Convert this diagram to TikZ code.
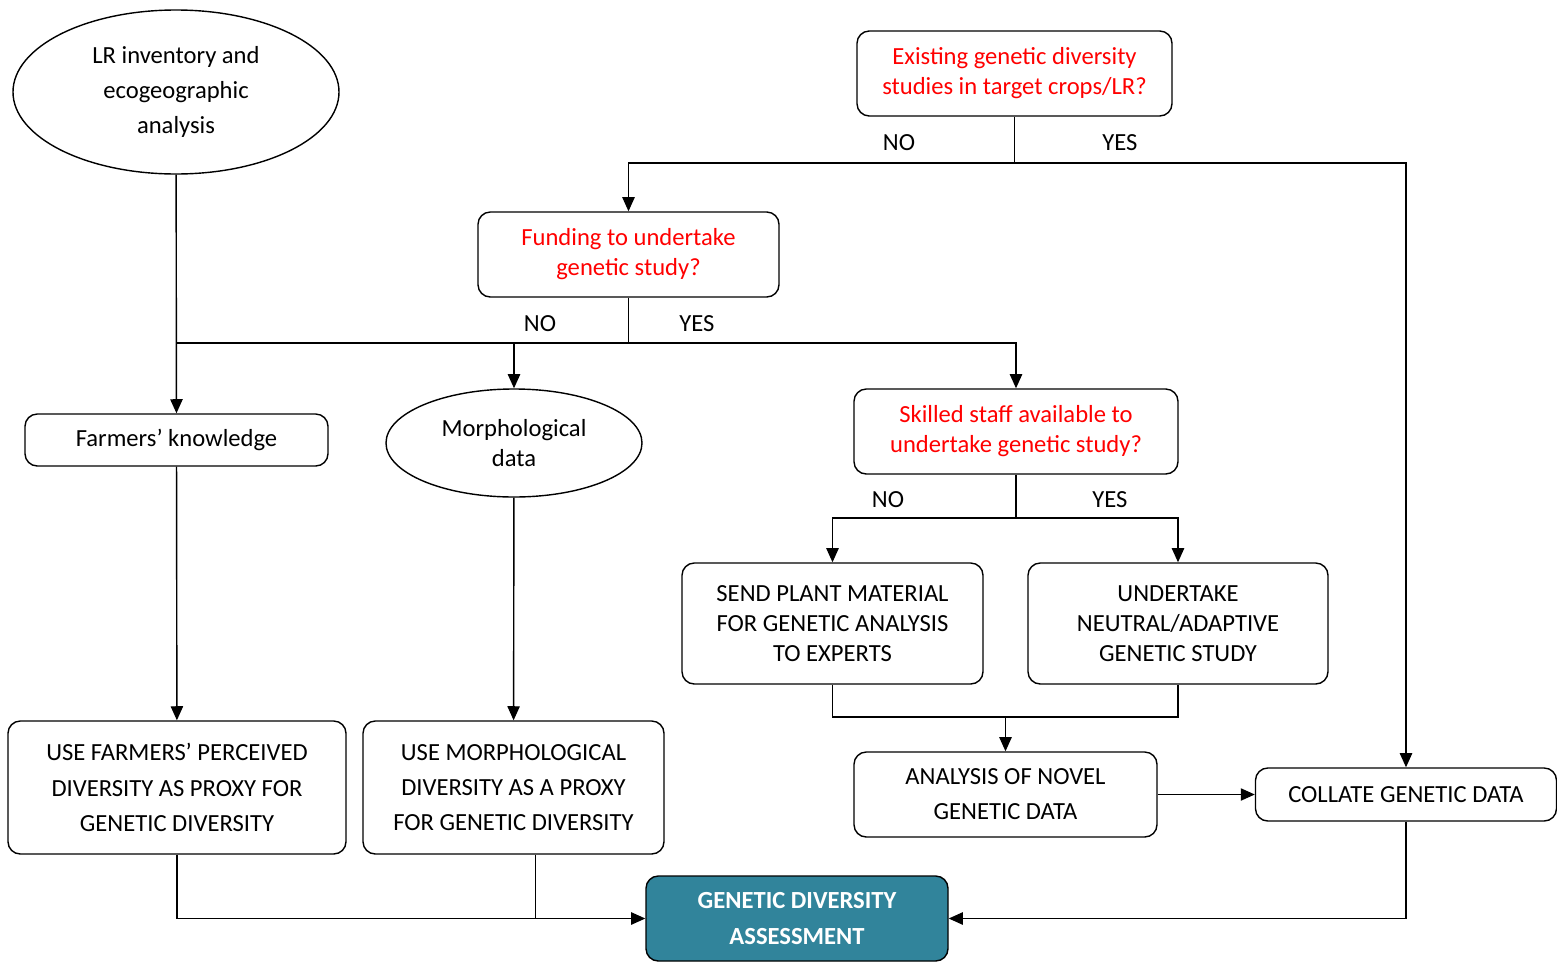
\documentclass[tikz,border=0pt]{standalone}
\usepackage{fontspec}
\setmainfont{Carlito}
\usetikzlibrary{arrows.meta,positioning,shapes.geometric,calc}
\definecolor{cred}{RGB}{255,0,0}
\definecolor{cgda}{RGB}{49,132,155}

\begin{document}
\begin{tikzpicture}[
            >={Triangle[length=8pt,width=7pt]},
            line width=0.8pt,
            txt/.style={font=\fontsize{14}{17}\selectfont, align=center},
            box/.style={txt, draw, rounded corners=7pt, inner sep=0pt},
            oval/.style={txt, draw, ellipse, inner sep=0pt},
            qbox/.style={box, text=cred},
            wide/.style={font=\fontsize{14}{20}\selectfont},
            lbl/.style={font=\fontsize{14}{17}\selectfont}
          ]
          \useasboundingbox (0,0) rectangle (31.14,-19.28);
          % left column
          \node[oval, wide, minimum width=6.52cm, minimum height=3.28cm] (lr) at (3.52,-1.84) {LR inventory and\\ecogeographic\\analysis};
          \node[box, minimum width=6.06cm, minimum height=1.04cm] (farm) at (3.53,-8.8) {Farmers’ knowledge};
          \node[box, wide, minimum width=6.76cm, minimum height=2.66cm] (usef) at (3.54,-15.75) {USE FARMERS’ PERCEIVED\\DIVERSITY AS PROXY FOR\\GENETIC DIVERSITY};
          \node[oval, minimum width=5.12cm, minimum height=2.16cm] (morph) at (10.28,-8.86) {Morphological\\data};
          \node[box, wide, minimum width=6.02cm, minimum height=2.66cm] (usem) at (10.27,-15.75) {USE MORPHOLOGICAL\\DIVERSITY AS A PROXY\\FOR GENETIC DIVERSITY};
          % questions
          \node[qbox, minimum width=6.3cm, minimum height=1.7cm] (exist) at (20.29,-1.47) {Existing genetic diversity\\studies in target crops/LR?};
          \node[qbox, minimum width=6.02cm, minimum height=1.7cm] (fund) at (12.57,-5.09) {Funding to undertake\\genetic study?};
          \node[qbox, minimum width=6.48cm, minimum height=1.7cm] (skill) at (20.32,-8.63) {Skilled staff available to\\undertake genetic study?};
          % genetic route
          \node[box, minimum width=6.02cm, minimum height=2.42cm] (send) at (16.65,-12.47) {SEND PLANT MATERIAL\\FOR GENETIC ANALYSIS\\TO EXPERTS};
          \node[box, minimum width=6.0cm, minimum height=2.42cm] (under) at (23.56,-12.47) {UNDERTAKE\\NEUTRAL/ADAPTIVE\\GENETIC STUDY};
          \node[box, wide, minimum width=6.06cm, minimum height=1.7cm] (anal) at (20.11,-15.89) {ANALYSIS OF NOVEL\\GENETIC DATA};
          \node[box, minimum width=6.02cm, minimum height=1.06cm] (coll) at (28.12,-15.89) {COLLATE GENETIC DATA};
          \node[box, fill=cgda, text=white, font=\fontsize{14}{20}\selectfont\bfseries, minimum width=6.04cm, minimum height=1.7cm] (gda) at (15.94,-18.37) {GENETIC DIVERSITY\\ASSESSMENT};
          % split points
          \coordinate (s1) at (20.29,-3.26);
          \coordinate (s2) at (12.57,-6.86);
          \coordinate (s3) at (20.32,-10.36);
          \coordinate (m1) at (20.11,-14.34);
          \draw (exist) -- (s1);
          \draw[->] (s1) -| (fund);
          \draw[->] (s1) -| (coll);
          \node[lbl] (no1) at (17.98,-2.86) {NO};
          \node[lbl] (yes1) at (22.4,-2.86) {YES};
          \draw (fund) -- (s2);
          \draw (s2) -- (s2 -| lr);
          \draw[->] (s2) -| (morph);
          \draw[->] (s2) -| (skill);
          \node[lbl] (no2) at (10.8,-6.48) {NO};
          \node[lbl] (yes2) at (13.94,-6.48) {YES};
          \draw (skill) -- (s3);
          \draw[->] (s3) -| (send);
          \draw[->] (s3) -| (under);
          \node[lbl] (no3) at (17.76,-10.0) {NO};
          \node[lbl] (yes3) at (22.2,-10.0) {YES};
          \draw (send) |- (m1) -| (under);
          \draw[->] (m1) -- (anal);
          \draw[->] (anal) -- (coll);
          \draw[->] (lr) -- (farm);
          \draw[->] (farm) -- (usef);
          \draw[->] (morph) -- (usem);
          \draw[->] (usef) |- (gda);
          \draw ([xshift=12.5pt]usem.south) -- ([xshift=12.5pt]usem.south |- gda.west);
          \draw[->] (coll) |- (gda);
        \end{tikzpicture}
\end{document}
